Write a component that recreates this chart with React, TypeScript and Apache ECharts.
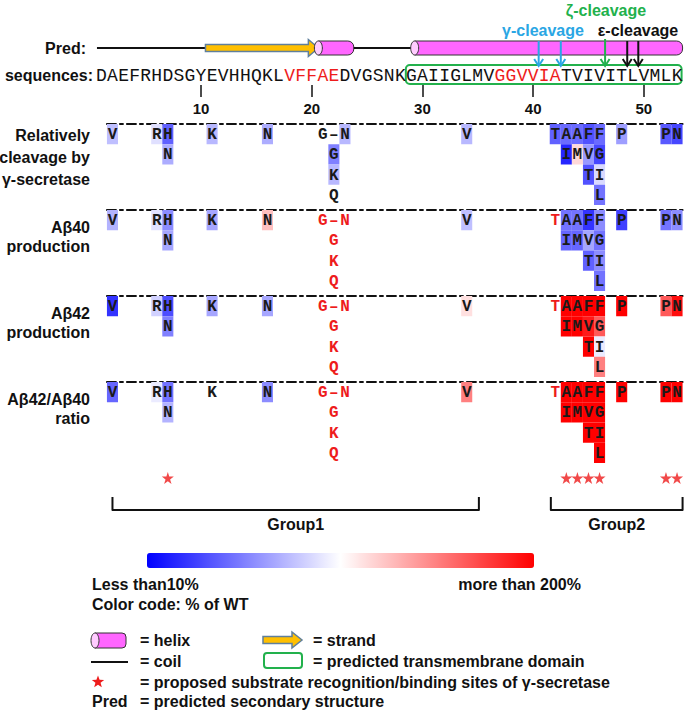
import React, { useEffect, useRef } from 'react';
import * as echarts from 'echarts';

// ---------------- data ----------------
const SEQUENCE = 'DAEFRHDSGYEVHHQKLVFFAEDVGSNKGAIIGLMVGGVVIATVIVITLVMLK'.split('');
const RED_RESIDUES = [18, 19, 20, 21, 22, 37, 38, 39, 40, 41, 42];
const POSITION_TICKS = [10, 20, 30, 40, 50];

const STRUCT_TYPES = ['coil', 'strand', 'helix', 'coil', 'helix'];
const STRUCT_START = [0.6, 10.4, 20.6, 23.8, 29.3];
const STRUCT_END = [10.4, 20.6, 23.8, 29.3, 53.5];

const TM_DOMAIN = [29, 53];

const GAMMA_SITES = [40.5, 42.5];
const ZETA_SITES = [46.5];
const EPSILON_SITES = [48.5, 49.5];

// mutations: residue position, row in the stack, mutant residue
const MUT_POS = [2, 6, 7, 7, 11, 16, 21, 22, 23, 22, 22, 22, 34, 42, 43, 44, 45, 46, 43, 44, 45, 46, 45, 46, 46, 48, 52, 53];
const MUT_ROW = [0, 0, 0, 1, 0, 0, 0, 0, 0, 1, 2, 3, 0, 0, 0, 0, 0, 0, 1, 1, 1, 1, 2, 2, 3, 0, 0, 0];
const MUT_AA = ['V', 'R', 'H', 'N', 'K', 'N', 'G', '–', 'N', 'G', 'K', 'Q', 'V', 'T', 'A', 'A', 'F', 'F', 'I', 'M', 'V', 'G', 'T', 'I', 'L', 'P', 'P', 'N'];

// % of WT (null = no colour shown)
const CLEAVAGE_VALUES = [75, 88, 38, 68, 72, 68, null, null, 72, 50, 72, null, 72, 38, 42, 42, 32, 42, 15, 115, 60, 28, 32, 85, 45, 62, 35, 28];
const AB40_VALUES = [70, 88, 55, 65, 65, 125, null, null, null, null, null, null, 75, null, 45, 45, 20, 55, 40, 40, 65, 45, 38, 55, 45, 25, 45, 55];
const AB42_VALUES = [20, 82, 30, 50, 65, 65, null, null, null, null, null, null, 112, null, 200, 200, 200, 200, 200, 200, 190, 165, 200, 92, 150, 200, 165, 195];
const RATIO_VALUES = [40, 92, 45, 70, null, 55, null, null, null, null, null, null, 150, null, 200, 200, 200, 200, 200, 200, 200, 200, 200, 200, 200, 200, 200, 200];
const PANEL_VALUES = [CLEAVAGE_VALUES, AB40_VALUES, AB42_VALUES, RATIO_VALUES];
const PANEL_RED_TEXT = [false, true, true, true];
const RED_TEXT_MUTS = [6, 7, 8, 9, 10, 11, 13];
const PANEL_LABELS = ['Relatively\ncleavage by\nγ-secretase', 'Aβ40\nproduction', 'Aβ42\nproduction', 'Aβ42/Aβ40\nratio'];

const STAR_SITES = [7, 43, 44, 45, 46, 52, 53];
const GROUP_NAMES = ['Group1', 'Group2'];
const GROUP_START = [2, 41.6];
const GROUP_END = [35.1, 53.5];

// ---------------- layout ----------------
const X_FIRST = 101.4;
const X_STEP = 11.07;
const gridX = (a: number, b: number) => ({ left: X_FIRST + (a - 1) * X_STEP, width: (b - a) * X_STEP });
const PANEL_TOP = [124, 210, 296, 382];
const SANS = '"Liberation Sans", Arial, Helvetica, sans-serif';
const MONO = '"Liberation Mono", "Courier New", monospace';
const RED = '#ee1c1c';
const GREEN = '#22b14c';
const SKY = '#2aa6e4';
const PRED_Y = 48;
const SEQ_Y = 75;

function starPoints(cx: number, cy: number, R: number, r: number) {
  const pts: number[][] = [];
  for (let k = 0; k < 10; k++) {
    const a = -Math.PI / 2 + (k * Math.PI) / 5;
    const rr = k % 2 === 0 ? R : r;
    pts.push([cx + rr * Math.cos(a), cy + rr * Math.sin(a)]);
  }
  return pts;
}

const STAR_PATH = 'path://M50,0 L61.2,34.5 L97.6,34.5 L68.2,55.9 L79.4,90.5 L50,69.1 L20.6,90.5 L31.8,55.9 L2.4,34.5 L38.8,34.5 Z';

function txt(x: number, y: number, text: string, font: string, fill = '#111', align = 'left', extra: any = {}) {
  return {
    type: 'text', x, y,
    style: { text, font, fill, textAlign: align, align, textVerticalAlign: 'middle', verticalAlign: 'middle', ...extra },
  };
}

function buildOption() {
  const grids: any[] = [];
  const xAxes: any[] = [];
  const yAxes: any[] = [];
  const series: any[] = [];

  // grid 0: secondary structure and sequence
  grids.push({ ...gridX(0.5, 53.5), top: 0, height: 85 });
  xAxes.push({
    gridIndex: 0, type: 'value', min: 0.5, max: 53.5, position: 'bottom',
    axisLine: { show: false, onZero: false }, splitLine: { show: false },
    axisTick: { show: true, customValues: POSITION_TICKS, length: 12, lineStyle: { color: '#111', width: 1.5 } },
    axisLabel: { show: true, customValues: POSITION_TICKS, margin: 16, color: '#111', fontWeight: 'bold', fontSize: 15, fontFamily: SANS },
  });
  yAxes.push({ gridIndex: 0, type: 'value', min: 0, max: 85, inverse: true, show: false });

  // panels
  PANEL_TOP.forEach((top, p) => {
    grids.push({ ...gridX(1.5, 53.5), top, height: 81 });
    xAxes.push({
      gridIndex: p + 1, type: 'value', min: 1.5, max: 53.5, position: 'top',
      axisLine: { show: true, onZero: false, lineStyle: { color: '#111', width: 2, type: [9, 4, 3, 4] } },
      axisTick: { show: false }, axisLabel: { show: false }, splitLine: { show: false },
    });
    yAxes.push({ gridIndex: p + 1, type: 'value', min: 0, max: 4, inverse: true, show: false });
  });

  // grid 5: stars and group brackets
  grids.push({ ...gridX(0.5, 53.5), top: 470, height: 60 });
  xAxes.push({ gridIndex: 5, type: 'value', min: 0.5, max: 53.5, show: false });
  yAxes.push({ gridIndex: 5, type: 'value', min: 0, max: 60, inverse: true, show: false });

  // structure
  series.push({
    type: 'custom', xAxisIndex: 0, yAxisIndex: 0, silent: true,
    data: STRUCT_START.map((s, i) => [s, STRUCT_END[i]]),
    renderItem: (params: any, api: any) => {
      const i = params.dataIndex;
      const x1 = api.coord([api.value(0), PRED_Y])[0];
      const x2 = api.coord([api.value(1), PRED_Y])[0];
      const yc = api.coord([1, PRED_Y])[1];
      const t = STRUCT_TYPES[i];
      if (t === 'coil') {
        return { type: 'line', shape: { x1, y1: yc, x2, y2: yc }, style: { stroke: '#111', lineWidth: 2 } };
      }
      if (t === 'strand') {
        const hx = x2 - 10;
        return {
          type: 'polygon',
          shape: { points: [[x1, yc - 3.5], [hx, yc - 3.5], [hx, yc - 8.5], [x2, yc], [hx, yc + 8.5], [hx, yc + 3.5], [x1, yc + 3.5]] },
          style: { fill: '#ffbf00', stroke: '#5f7f9c', lineWidth: 1.5 },
        };
      }
      return {
        type: 'group',
        children: [
          { type: 'rect', shape: { x: x1, y: yc - 7, width: x2 - x1, height: 14, r: [0, 6, 6, 0] }, style: { fill: '#ff66ff', stroke: '#333', lineWidth: 1 } },
          { type: 'ellipse', shape: { cx: x1, cy: yc, rx: 4, ry: 7 }, style: { fill: '#ffccff', stroke: '#333', lineWidth: 1 } },
        ],
      };
    },
  });

  // transmembrane domain box
  series.push({
    type: 'custom', xAxisIndex: 0, yAxisIndex: 0, silent: true,
    data: [[TM_DOMAIN[0] - 0.5, TM_DOMAIN[1] + 0.5]],
    renderItem: (params: any, api: any) => {
      const p1 = api.coord([api.value(0), 65]);
      const p2 = api.coord([api.value(1), 84]);
      return {
        type: 'rect',
        shape: { x: p1[0], y: p1[1], width: p2[0] - p1[0] - 1, height: p2[1] - p1[1], r: 4 },
        style: { fill: 'none', stroke: GREEN, lineWidth: 2 },
      };
    },
  });

  // sequence letters
  series.push({
    type: 'custom', xAxisIndex: 0, yAxisIndex: 0, silent: true,
    data: SEQUENCE.map((_, i) => [i + 1, SEQ_Y]),
    renderItem: (params: any, api: any) => {
      const c = api.coord([api.value(0), api.value(1)]);
      const pos = params.dataIndex + 1;
      return {
        type: 'text', x: c[0], y: c[1] + 1,
        style: {
          text: SEQUENCE[params.dataIndex], font: `18px ${MONO}`,
          fill: RED_RESIDUES.includes(pos) ? RED : '#111',
          textAlign: 'center', align: 'center', textVerticalAlign: 'middle', verticalAlign: 'middle',
        },
      };
    },
  });

  // cleavage arrows
  const arrowSites: number[][] = [];
  GAMMA_SITES.forEach((s) => arrowSites.push([s, 0]));
  ZETA_SITES.forEach((s) => arrowSites.push([s, 1]));
  EPSILON_SITES.forEach((s) => arrowSites.push([s, 2]));
  const ARROW_COLORS = [SKY, GREEN, '#111'];
  const ARROW_TOP = [41, 39, 41];
  series.push({
    type: 'custom', xAxisIndex: 0, yAxisIndex: 0, silent: true,
    data: arrowSites,
    renderItem: (params: any, api: any) => {
      const g = api.value(1);
      const x = api.coord([api.value(0), 0])[0];
      const yT = api.coord([1, ARROW_TOP[g]])[1];
      const yB = api.coord([1, 66])[1];
      const color = ARROW_COLORS[g];
      return {
        type: 'group',
        children: [
          { type: 'line', shape: { x1: x, y1: yT, x2: x, y2: yB }, style: { stroke: color, lineWidth: 2 } },
          { type: 'polyline', shape: { points: [[x - 4.5, yB - 7], [x, yB], [x + 4.5, yB - 7]] }, style: { stroke: color, lineWidth: 2, fill: 'none' } },
        ],
      };
    },
  });

  // mutation cells per panel
  const cellSeriesIdx: number[] = [];
  PANEL_VALUES.forEach((vals, p) => {
    cellSeriesIdx.push(series.length);
    series.push({
      type: 'custom', xAxisIndex: p + 1, yAxisIndex: p + 1, silent: true,
      data: MUT_POS.map((x, i) => [x, MUT_ROW[i] + 0.5, vals[i] === null ? '-' : vals[i]]),
      renderItem: (params: any, api: any) => {
        const i = params.dataIndex;
        const c = api.coord([api.value(0), api.value(1)]);
        const w = api.size([1, 0])[0];
        const h = api.size([0, 1])[1];
        const children: any[] = [];
        if (vals[i] !== null) {
          children.push({ type: 'rect', shape: { x: c[0] - w / 2, y: c[1] - h / 2, width: w, height: h }, style: { fill: api.visual('color') } });
        }
        const red = PANEL_RED_TEXT[p] && RED_TEXT_MUTS.includes(i);
        children.push({
          type: 'text', x: c[0], y: c[1] + 1,
          style: {
            text: MUT_AA[i], font: `bold 16px ${MONO}`, fill: red ? RED : '#1a1a1a',
            textAlign: 'center', align: 'center', textVerticalAlign: 'middle', verticalAlign: 'middle',
          },
        });
        return { type: 'group', children };
      },
    });
  });

  // stars
  series.push({
    type: 'scatter', xAxisIndex: 5, yAxisIndex: 5, silent: true,
    symbol: STAR_PATH, symbolSize: 12,
    itemStyle: { color: RED },
    data: STAR_SITES.map((s) => [s, 8]),
  });

  // group brackets
  series.push({
    type: 'custom', xAxisIndex: 5, yAxisIndex: 5, silent: true,
    data: GROUP_START.map((s, i) => [s, GROUP_END[i]]),
    renderItem: (params: any, api: any) => {
      const x1 = api.coord([api.value(0), 0])[0];
      const x2 = api.coord([api.value(1), 0])[0];
      const yT = api.coord([1, 27])[1];
      const yB = api.coord([1, 40])[1];
      const yL = api.coord([1, 54])[1];
      return {
        type: 'group',
        children: [
          { type: 'polyline', shape: { points: [[x1, yT], [x1, yB], [x2, yB], [x2, yT]] }, style: { stroke: '#111', lineWidth: 2, fill: 'none', lineJoin: 'round' } },
          { type: 'text', x: (x1 + x2) / 2, y: yL, style: { text: GROUP_NAMES[params.dataIndex], font: `bold 16px ${SANS}`, fill: '#111', textAlign: 'center', align: 'center', textVerticalAlign: 'middle', verticalAlign: 'middle' } },
        ],
      };
    },
  });

  const F16 = `bold 16px ${SANS}`;

  const graphics: any[] = [
    txt(606, 10, 'ζ-cleavage', F16, GREEN, 'center'),
    txt(543, 30, 'γ-cleavage', F16, SKY, 'center'),
    txt(638, 30, 'ε-cleavage', F16, '#111', 'center'),
    txt(86, PRED_Y, 'Pred:', F16, '#111', 'right'),
    txt(93, SEQ_Y, 'sequences:', F16, '#111', 'right'),
  ];
  PANEL_LABELS.forEach((lab, p) => {
    const multi = lab.split('\n').length;
    const y = multi === 3 ? PANEL_TOP[p] + 33 : PANEL_TOP[p] + 26.5;
    graphics.push(txt(90, y, lab, F16, '#111', 'right', { lineHeight: multi === 3 ? 22 : 19 }));
  });
  graphics.push(
    txt(92, 584, 'Less than10%', F16, '#111', 'left'),
    txt(581, 584, 'more than 200%', F16, '#111', 'right'),
    txt(92, 604, 'Color code: % of WT', F16, '#111', 'left'),
    // legend
    { type: 'rect', shape: { x: 95, y: 633, width: 31, height: 15, r: [0, 4, 4, 0] }, style: { fill: '#ff66ff', stroke: '#333', lineWidth: 1 } },
    { type: 'ellipse', shape: { cx: 95, cy: 640.5, rx: 4, ry: 7.5 }, style: { fill: '#ffccff', stroke: '#333', lineWidth: 1 } },
    txt(140, 640, '= helix', F16),
    { type: 'polygon', shape: { points: [[263, 636.5], [292, 636.5], [292, 632], [302, 640], [292, 648], [292, 643.5], [263, 643.5]] }, style: { fill: '#ffbf00', stroke: '#5f7f9c', lineWidth: 1.5 } },
    txt(313, 640, '= strand', F16),
    { type: 'line', shape: { x1: 91, y1: 662, x2: 128, y2: 662 }, style: { stroke: '#111', lineWidth: 2 } },
    txt(140, 661, '= coil', F16),
    { type: 'rect', shape: { x: 264, y: 653, width: 38, height: 15, r: 3 }, style: { fill: 'none', stroke: GREEN, lineWidth: 2 } },
    txt(313, 661, '= predicted transmembrane domain', F16),
    { type: 'polygon', shape: { points: starPoints(98, 682, 6.5, 2.7) }, style: { fill: RED } },
    txt(140, 682, '= proposed substrate recognition/binding sites of γ-secretase', F16),
    txt(92, 701, 'Pred', F16),
    txt(140, 701, '= predicted secondary structure', F16),
  );

  return {
    animation: false,
    backgroundColor: '#ffffff',
    grid: grids,
    xAxis: xAxes,
    yAxis: yAxes,
    visualMap: {
      type: 'continuous', show: true, min: 0, max: 200, dimension: 2,
      seriesIndex: cellSeriesIdx, calculable: false, hoverLink: false,
      orient: 'horizontal', left: 147, top: 553, itemWidth: 15, itemHeight: 387, padding: 0,
      inRange: { color: ['#0000ff', '#ffffff', '#ff0000'] },
      text: null,
    },
    series,
    graphic: graphics,
  };
}

export default function App() {
  const ref = useRef<HTMLDivElement>(null);
  useEffect(() => {
    if (!ref.current) return;
    const chart = echarts.init(ref.current, null, { renderer: 'svg' });
    chart.setOption(buildOption() as any);
    return () => chart.dispose();
  }, []);
  return <div ref={ref} style={{ position: 'fixed', left: 0, top: 0, width: 685, height: 712, background: '#fff' }} />;
}
